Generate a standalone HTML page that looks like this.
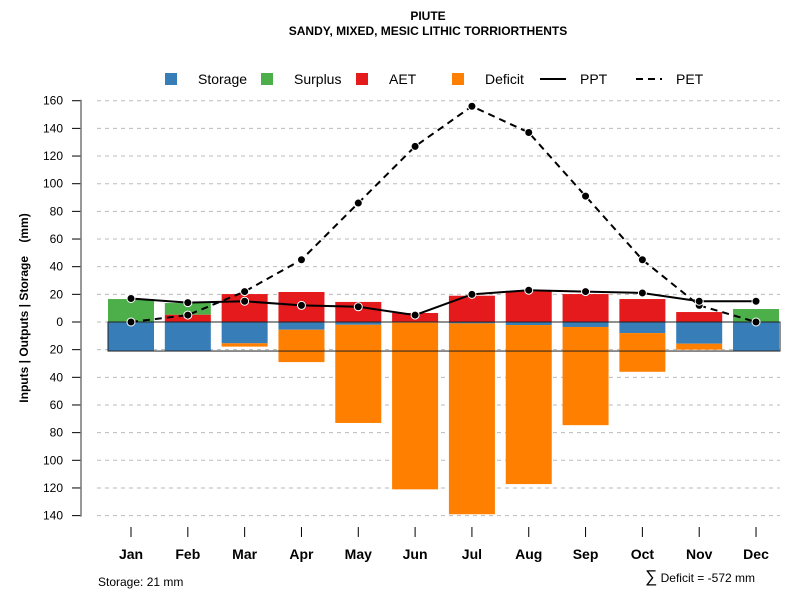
<!DOCTYPE html>
<html><head><meta charset="utf-8"><style>
body{margin:0;background:#fff}
svg{font-family:"Liberation Sans",sans-serif}
</style></head><body>
<svg id="c" width="800" height="600" xmlns="http://www.w3.org/2000/svg">
<text x="428" y="20" text-anchor="middle" font-size="12" font-weight="bold">PIUTE</text>
<text x="428" y="35" text-anchor="middle" font-size="12" font-weight="bold">SANDY, MIXED, MESIC LITHIC TORRIORTHENTS</text>
<g font-size="14">
<rect x="165" y="73" width="12" height="12" fill="#377eb8"/><text x="198" y="84">Storage</text>
<rect x="261" y="73" width="12" height="12" fill="#4daf4a"/><text x="294" y="84">Surplus</text>
<rect x="356" y="73" width="12" height="12" fill="#e41a1c"/><text x="389" y="84">AET</text>
<rect x="452" y="73" width="12" height="12" fill="#ff7f00"/><text x="485" y="84">Deficit</text>
<line x1="540" y1="79" x2="566" y2="79" stroke="#000" stroke-width="2"/><text x="580" y="84">PPT</text>
<line x1="636" y1="79" x2="662" y2="79" stroke="#000" stroke-width="2" stroke-dasharray="7,5"/><text x="676" y="84">PET</text>
</g>
<text transform="translate(28,308) rotate(-90)" text-anchor="middle" font-size="12" font-weight="bold" xml:space="preserve">Inputs | Outputs | Storage    (mm)</text>
<text x="98" y="586" font-size="12">Storage: 21 mm</text>
<text x="755" y="582" text-anchor="end" font-size="12"><tspan font-size="17">∑</tspan> Deficit = -572 mm</text>
<g id="grid"></g><g id="bars"></g><g id="lines"></g><g id="axes"></g>
</svg>
<script>
const months=["Jan","Feb","Mar","Apr","May","Jun","Jul","Aug","Sep","Oct","Nov","Dec"];
const storage=[-21,-21,-15.4,-5.6,-2,-0.5,-1,-2.2,-3.6,-8,-15.7,-21];
const deficit=[0,0,-2.4,-23.4,-71,-120.5,-138,-115,-71,-28,-4.3,0];
const aet=[0,5.3,20.2,21.7,14.5,6.5,19,22.2,20.2,16.6,7.2,0];
const surplus=[16.6,8.4,0,0,0,0,0,0,0,0,0,9.4];
const ppt=[17,14,15,12,11,5,20,23,22,21,15,15];
const pet=[0,5,22,45,86,127,156,137,91,45,12,0];
const yTicks=[160,140,120,100,80,60,40,20,0,-20,-40,-60,-80,-100,-120,-140];
const NS="http://www.w3.org/2000/svg";
const y=v=>322-v*1.383;
const x=i=>131+i*56.82;
function mk(p,t,a){const e=document.createElementNS(NS,t);for(const k in a)e.setAttribute(k,a[k]);document.getElementById(p).appendChild(e);return e;}
yTicks.forEach(t=>{
 const g=mk("grid","line",{x1:97,x2:780,y1:y(t),y2:y(t),stroke:"#bbb","stroke-dasharray":"4,4"});
 
 
 const tk=mk("axes","line",{x1:72,x2:81,y1:y(t),y2:y(t),stroke:"#000"});
 
 
 const l=mk("axes","text",{x:63,y:y(t)+4,"text-anchor":"end","font-size":"12"});
 l.textContent=Math.abs(t);
 
 
});
const ax=mk("axes","line",{x1:81,x2:81,y1:y(160)-1,y2:y(-140)+1,stroke:"#777","stroke-width":1.5});


const w=46;
function bar(i,v0,v1,c,n){const r=mk("bars","rect",{x:x(i)-w/2,y:Math.min(y(v0),y(v1)),width:w,height:Math.abs(y(v0)-y(v1)),fill:c});
 
 }
months.forEach((m,i)=>{
 bar(i,0,storage[i],"#377eb8","bar-storage-"+m.toLowerCase());
 bar(i,storage[i],storage[i]+deficit[i],"#ff7f00","bar-deficit-"+m.toLowerCase());
 bar(i,0,aet[i],"#e41a1c","bar-aet-"+m.toLowerCase());
 bar(i,aet[i],aet[i]+surplus[i],"#4daf4a","bar-surplus-"+m.toLowerCase());
 const tk=mk("axes","line",{x1:x(i),x2:x(i),y1:527,y2:537,stroke:"#000"});
 
 
 const l=mk("axes","text",{x:x(i),y:559,"text-anchor":"middle","font-size":"14","font-weight":"bold"});
 l.textContent=m;
 
 
});
const box=mk("bars","rect",{x:108,y:y(0),width:672,height:y(-21)-y(0),fill:"none",stroke:"#222","stroke-width":1});


function series(d,dash,n){
 const p=mk("lines","polyline",{points:d.map((v,i)=>x(i)+","+y(v)).join(" "),fill:"none",stroke:"#000","stroke-width":2,"stroke-dasharray":dash});
 
 
 d.forEach((v,i)=>{const c=mk("lines","circle",{cx:x(i),cy:y(v),r:4,fill:"#000",stroke:"#fff","stroke-width":1});
  
  });
}
series(pet,"7,5","pet");
series(ppt,"none","ppt");
</script>
</body></html>
